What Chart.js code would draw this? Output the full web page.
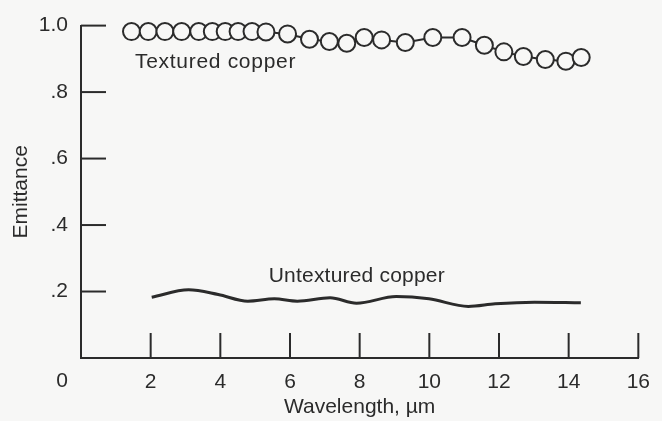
<!DOCTYPE html>
<html>
<head>
<meta charset="utf-8">
<script src="https://cdn.jsdelivr.net/npm/chart.js@4.4.1/dist/chart.umd.min.js"></script>
<style>
  body { margin: 0; background: #f7f7f6; }
  #wrap { width: 662px; height: 421px; position: relative; }
</style>
</head>
<body>
<div id="wrap"><canvas id="emitChart"></canvas></div>
<script>
// wavelength (um) / emittance
const texturedX = [1.45, 1.93, 2.41, 2.89, 3.38, 3.77, 4.14, 4.51, 4.91, 5.31, 5.93,
  6.56, 7.13, 7.63, 8.13, 8.63, 9.31, 10.1, 10.94, 11.58, 12.14, 12.7, 13.33, 13.92, 14.36];
const texturedY = [0.982, 0.982, 0.982, 0.982, 0.982, 0.982, 0.982, 0.982, 0.982, 0.981, 0.975,
  0.959, 0.952, 0.947, 0.964, 0.957, 0.949, 0.964, 0.964, 0.941, 0.921, 0.907, 0.898, 0.893, 0.904];

const untexturedX = [2.03, 3.09, 3.94, 4.79, 5.55, 6.21, 7.15, 7.91, 9.05, 9.99, 11.12, 11.89, 13.02, 14.35];
const untexturedY = [0.183, 0.205, 0.191, 0.171, 0.178, 0.171, 0.181, 0.165, 0.185, 0.178, 0.155, 0.163, 0.168, 0.166];

const xTicks = [0, 2, 4, 6, 8, 10, 12, 14, 16];
const xTickLabels = ["0", "2", "4", "6", "8", "10", "12", "14", "16"];
const yTicks = [0, 0.2, 0.4, 0.6, 0.8, 1.0];
const yTickLabels = ["", ".2", ".4", ".6", ".8", "1.0"];

const ink = "#2b2b2b";
const paper = "#f7f7f6";
const fontFam = "'Liberation Sans', Arial, sans-serif";
const fontSize = 21;

function toPoints(xs, ys) {
  return xs.map((x, i) => ({ x: x, y: ys[i] }));
}

// inward tick marks, the corner "0" and the curve labels
const paperPlot = {
  id: "paperPlot",
  beforeDraw(chart) {
    const c = chart.ctx;
    c.save();
    c.fillStyle = paper;
    c.fillRect(0, 0, chart.width, chart.height);
    c.restore();
  },
  afterDraw(chart) {
    const c = chart.ctx;
    const xs = chart.scales.x;
    const ys = chart.scales.y;
    const area = chart.chartArea;
    c.save();
    c.strokeStyle = ink;
    c.lineWidth = 2;
    yTicks.forEach((v) => {
      if (v === 0) return;
      const py = ys.getPixelForValue(v);
      c.beginPath();
      c.moveTo(area.left, py);
      c.lineTo(area.left + 25, py);
      c.stroke();
    });
    xTicks.forEach((v) => {
      if (v === 0) return;
      const px = xs.getPixelForValue(v);
      c.beginPath();
      c.moveTo(px, area.bottom);
      c.lineTo(px, area.bottom - 25);
      c.stroke();
    });

    c.fillStyle = ink;
    c.font = fontSize + "px " + fontFam;
    c.textBaseline = "middle";
    c.textAlign = "center";
    c.fillText(xTickLabels[0], area.left - 19, 381);

    c.textAlign = "left";
    c.letterSpacing = "0.7px";
    c.fillText("Textured copper", xs.getPixelForValue(1.55), ys.getPixelForValue(0.89));
    c.letterSpacing = "0.2px";
    c.fillText("Untextured copper", xs.getPixelForValue(5.39), ys.getPixelForValue(0.245));
    c.restore();
  },
};

new Chart(document.getElementById("emitChart"), {
  type: "line",
  data: {
    datasets: [
      {
        label: "Textured copper",
        data: toPoints(texturedX, texturedY),
        borderColor: ink,
        borderWidth: 2,
        pointRadius: 8.5,
        pointBorderWidth: 2,
        pointBorderColor: ink,
        pointBackgroundColor: paper,
        tension: 0,
        clip: false,
      },
      {
        label: "Untextured copper",
        data: toPoints(untexturedX, untexturedY),
        borderColor: ink,
        borderWidth: 3,
        pointRadius: 0,
        cubicInterpolationMode: "monotone",
        clip: false,
      },
    ],
  },
  options: {
    responsive: true,
    maintainAspectRatio: false,
    animation: false,
    layout: { padding: { top: 23, right: 20, left: 0, bottom: 0 } },
    plugins: { legend: { display: false }, tooltip: { enabled: false } },
    scales: {
      x: {
        type: "linear",
        min: 0,
        max: 16,
        afterBuildTicks: (scale) => {
          scale.ticks = xTicks.map((v) => ({ value: v }));
        },
        afterFit: (scale) => {
          scale.height = 63;
        },
        grid: { display: false, drawTicks: false },
        border: { display: true, color: ink, width: 2 },
        ticks: {
          padding: 12,
          color: ink,
          maxRotation: 0,
          font: { family: fontFam, size: fontSize },
          callback: (v) => (v === 0 ? "" : xTickLabels[xTicks.indexOf(v)]),
        },
        title: {
          display: true,
          text: "Wavelength, \u00b5m",
          color: ink,
          font: { family: fontFam, size: fontSize },
          padding: { top: 0, bottom: 1 },
        },
      },
      y: {
        min: 0,
        max: 1,
        afterBuildTicks: (scale) => {
          scale.ticks = yTicks.map((v) => ({ value: v }));
        },
        afterFit: (scale) => {
          scale.width = 81;
        },
        grid: { display: false, drawTicks: false },
        border: { display: true, color: ink, width: 2 },
        ticks: {
          padding: 13,
          color: ink,
          font: { family: fontFam, size: fontSize },
          callback: (v) => yTickLabels[yTicks.findIndex((t) => Math.abs(t - v) < 1e-6)],
        },
        title: {
          display: true,
          text: "Emittance",
          color: ink,
          font: { family: fontFam, size: fontSize },
          padding: { top: 9, bottom: 0 },
        },
      },
    },
  },
  plugins: [paperPlot],
});
</script>
</body>
</html>
